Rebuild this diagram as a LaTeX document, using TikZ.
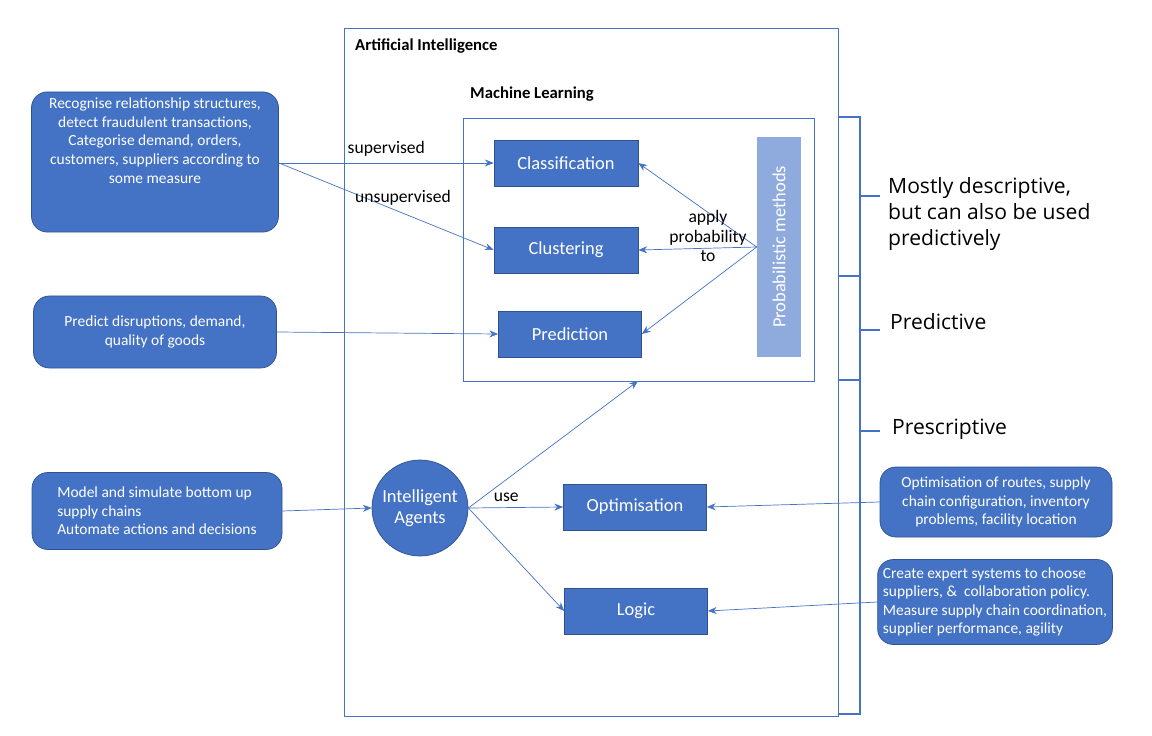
\documentclass[tikz,border=0pt]{standalone}
\usepackage{fontspec}
\setmainfont{Carlito}
\newfontfamily\labelfont{Open Sans}
\usetikzlibrary{arrows.meta}
\definecolor{boxblue}{HTML}{4472C4}
\definecolor{boxedge}{HTML}{2F528F}
\definecolor{probblue}{HTML}{8FAADC}
\tikzset{
  task/.style={draw=boxedge, fill=boxblue, text=white, font=\fontsize{10.5}{12}\selectfont},
  usecase/.style={draw=boxedge, fill=boxblue, text=white, rounded corners=9pt, align=center, font=\fontsize{8.8}{10.6}\selectfont},
  link/.style={draw=boxblue, -{Stealth[length=5pt,width=4pt]}},
  frame/.style={draw=boxblue, thick}
}
\begin{document}
\begin{tikzpicture}[x=0.02cm, y=-0.02cm]
        \useasboundingbox (0,0) rectangle (1152,736);
        % outer frames
        \draw[boxblue] (344,28) rectangle (838,716);
        \node[anchor=west, font=\bfseries\fontsize{9.5}{11}\selectfont] (aititle) at (349,46) {Artificial Intelligence};
        \draw[boxblue] (463,118) rectangle (814,381);
        \node[font=\bfseries\fontsize{9.5}{11}\selectfont] (mltitle) at (532,94) {Machine Learning};
        \coordinate (mlbottom) at (638,381);
        % machine learning tasks
        \node[task, minimum width=144*0.02cm, minimum height=46*0.02cm] (classification) at (566,163) {Classification};
        \node[task, minimum width=144*0.02cm, minimum height=46*0.02cm] (clustering)     at (566,250) {Clustering};
        \node[task, minimum width=143*0.02cm, minimum height=46*0.02cm] (prediction)     at (570,334) {Prediction};
        \node[fill=probblue, text=white, minimum width=220*0.02cm, minimum height=44*0.02cm, rotate=90,
              font=\fontsize{10.5}{12}\selectfont] (probmethods) at (779,247) {Probabilistic methods};
        % agents and their tools
        \node[circle, task, minimum size=96*0.02cm, align=center, inner sep=0pt] (agents) at (420,508) {Intelligent\\Agents};
        \node[task, minimum width=143*0.02cm, minimum height=46*0.02cm] (optimisation) at (635,507) {Optimisation};
        \node[task, minimum width=143*0.02cm, minimum height=46*0.02cm] (logic)        at (636,611) {Logic};
        % use cases on the left
        \node[usecase, minimum width=247*0.02cm, minimum height=140*0.02cm] (patterns) at (155,162)
          {Recognise relationship structures,\\detect fraudulent transactions,\\Categorise demand, orders,\\customers, suppliers according to\\some measure\\[14pt]};
        \coordinate (patternsout) at (279,163);
        \node[usecase, minimum width=243*0.02cm, minimum height=72*0.02cm] (forecast) at (155,332)
          {Predict disruptions, demand,\\quality of goods};
        \node[usecase, minimum width=250*0.02cm, minimum height=77*0.02cm, align=left] (simulate) at (157,511)
          {Model and simulate bottom up\\supply chains\\Automate actions and decisions};
        % use cases on the right
        \node[usecase, minimum width=232*0.02cm, minimum height=70*0.02cm] (routes) at (996,502)
          {Optimisation of routes, supply\\chain configuration, inventory\\problems, facility location};
        \node[usecase, minimum width=234*0.02cm, minimum height=85*0.02cm, align=left, inner xsep=3pt] (expert) at (995,602)
          {Create expert systems to choose\\suppliers, \&\ \ collaboration policy.\\Measure supply chain coordination,\\supplier performance, agility};
        % connectors
        \draw[link] (patternsout) -- node[above, black, font=\fontsize{10}{12}\selectfont] {supervised} (classification.west);
        \draw[link] (patternsout) -- (clustering.west);
        \node[font=\fontsize{10}{12}\selectfont] (unsuplabel) at (403,198) {unsupervised};
        \draw[link] (forecast.east) -- (prediction.west);
        \draw[link] (probmethods.north) -- (classification.east);
        \draw[link] (probmethods.north) -- (clustering.east);
        \draw[link] (probmethods.north) -- (prediction.east);
        \node[align=center, font=\fontsize{10}{11}\selectfont] (applylabel) at (708,236) {apply\\probability\\to};
        \draw[link] (simulate.east) -- (agents.west);
        \draw[link] (agents.east) -- node[above, pos=0.4, black, font=\fontsize{10}{12}\selectfont] {use} (optimisation.west);
        \draw[link] (agents.east) -- (logic.west);
        \draw[link] (agents.east) -- (mlbottom);
        \draw[link] (routes.west) -- (optimisation.east);
        \draw[link] (expert.west) -- (logic.east);
        % brackets on the right
        \draw[frame] (838,117) -- (860,117) -- (860,714) -- (838,714);
        \draw[frame] (838,276) -- (860,276);
        \draw[frame] (838,380) -- (860,380);
        \draw[frame] (860,196) -- (880,196);
        \draw[frame] (860,330) -- (880,330);
        \draw[frame] (860,431) -- (880,431);
        \node[anchor=west, align=left, font=\labelfont\fontsize{12}{15}\selectfont] (descriptive) at (882,214)
          {Mostly descriptive,\\but can also be used\\predictively};
        \node[anchor=west, font=\labelfont\fontsize{12}{14}\selectfont] (predictive) at (884,322) {Predictive};
        \node[anchor=west, font=\labelfont\fontsize{12}{14}\selectfont] (prescriptive) at (886,429) {Prescriptive};
\end{tikzpicture}
\end{document}
